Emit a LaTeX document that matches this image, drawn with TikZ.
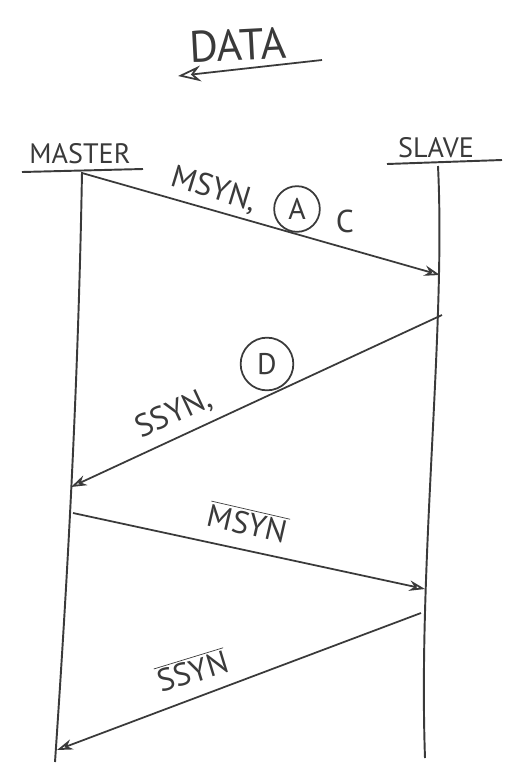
\documentclass[tikz,border=0pt]{standalone}
\usepackage{fontspec}
\setmainfont{PT Sans}
\usetikzlibrary{arrows.meta}
\definecolor{ink}{HTML}{3A3A3A}

\begin{document}
\begin{tikzpicture}[x=0.02cm,y=-0.02cm,text=ink,
    lifeline/.style={ink,line width=1.1pt},
    msg/.style={ink,line width=1pt,-{Stealth[open,length=9pt,width=6pt]}},
    lbl/.style={font=\fontsize{18}{20}\selectfont},
    tag/.style={circle,draw=ink,line width=1pt,inner sep=0pt,font=\fontsize{17}{19}\selectfont}]
    \useasboundingbox (0,0) rectangle (510,765);
    % direction of data
    \node[font=\fontsize{25}{27}\selectfont,rotate=3] (data) at (238,45) {DATA};
    \coordinate (dr) at (322,60);
    \coordinate (dl) at (178,76);
    \draw[msg,-{Stealth[open,length=13pt,width=9pt]}] (dr) -- (dl);
    % the two ends
    \node[font=\fontsize{16}{18}\selectfont] (master) at (80,154) {MASTER};
    \node[font=\fontsize{16}{18}\selectfont] (slave) at (436,148) {SLAVE};
    \draw[lifeline] (22,172) -- (143,169);
    \draw[lifeline] (387,164) -- (502,160);
    \coordinate (mtop) at (82,172);
    \coordinate (mbot) at (55,762);
    \coordinate (stop) at (438,166);
    \coordinate (sbot) at (425,758);
    \draw[lifeline] (mtop) .. controls (78,400) and (66,600) .. (mbot);
    \draw[lifeline] (stop) .. controls (446,330) and (418,560) .. (sbot);
    % messages
    \coordinate (m1) at (82,173);
    \coordinate (s1) at (440,275);
    \coordinate (s2) at (442,315);
    \coordinate (m2) at (71,487);
    \coordinate (m3) at (73,513);
    \coordinate (s3) at (425,589);
    \coordinate (s4) at (421,613);
    \coordinate (m4) at (57,750);
    \draw[msg] (m1) -- (s1);
    \draw[msg] (s2) -- (m2);
    \draw[msg] (m3) -- (s3);
    \draw[msg] (s4) -- (m4);
    \node[lbl,rotate=-17] (msyn) at (214,190) {MSYN,};
    \node[tag,minimum size=26pt] (tagA) at (297,209) {A};
    \node[lbl] (tagC) at (345,221) {C};
    \node[lbl,rotate=25] (ssyn) at (174,414) {SSYN,};
    \node[tag,minimum size=30pt] (tagD) at (267,364) {D};
    \node[lbl,rotate=-13] (nmsyn) at (248,522) {$\overline{\hbox{MSYN}}$};
    \node[lbl,rotate=17] (nssyn) at (192,670) {$\overline{\hbox{SSYN}}$};
  \end{tikzpicture}
\end{document}
